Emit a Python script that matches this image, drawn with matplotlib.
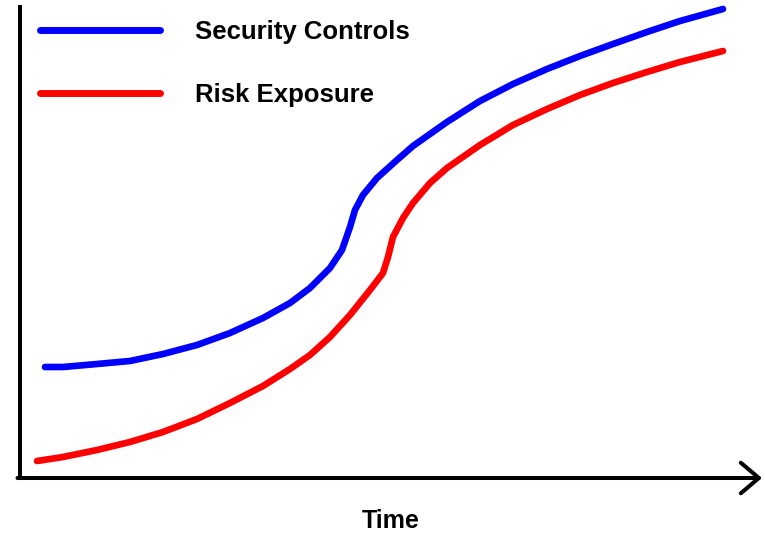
import matplotlib.pyplot as plt

plt.rcParams["font.family"] = ["Liberation Sans", "DejaVu Sans"]

# Values (time units, level units)
security_time = [25, 43, 77, 110, 143, 177, 210, 243, 270, 290, 310, 322, 330, 335,
                 343, 357, 377, 393, 427, 460, 493, 527, 560, 593, 627, 660, 703]
security_level = [111, 111, 114, 117, 124, 133, 145, 160, 175, 190, 210, 228, 251, 268,
                  283, 300, 318, 332, 356, 377, 394, 409, 422, 434, 446, 457, 469]

risk_time = [17, 43, 77, 110, 143, 177, 210, 243, 270, 290, 310, 330, 350, 363,
             368, 373, 383, 393, 410, 427, 460, 493, 527, 560, 593, 627, 660, 703]
risk_level = [17, 21, 28, 36, 46, 59, 75, 92, 109, 123, 141, 163, 188, 205,
              221, 241, 260, 275, 295, 310, 333, 353, 369, 383, 395, 406, 416, 427]

labels = ["Security Controls", "Risk Exposure"]
colors = ["#0000ff", "#ff0000"]

fig = plt.figure(figsize=(7.65, 5.33), dpi=100)
ax = fig.add_axes([20 / 765, 55 / 533, 740 / 765, 478 / 533])
ax.set_xlim(0, 740)
ax.set_ylim(0, 478)

ax.plot(security_time, security_level, color=colors[0], lw=4.8,
        solid_capstyle="round", solid_joinstyle="round", label=labels[0])
ax.plot(risk_time, risk_level, color=colors[1], lw=4.8,
        solid_capstyle="round", solid_joinstyle="round", label=labels[1])

# axes: plain vertical line, x axis with open arrowhead
for s in ["top", "right", "bottom"]:
    ax.spines[s].set_visible(False)
ax.spines["left"].set_linewidth(2.9)
ax.spines["left"].set_bounds(0, 471)
ax.annotate("", xy=(742, 0), xytext=(-2.5, 0), xycoords="data",
            annotation_clip=False,
            arrowprops=dict(arrowstyle="->,head_length=0.65,head_width=0.55",
                            lw=2.9, color="black", mutation_scale=20,
                            shrinkA=0, shrinkB=0))
ax.set_xticks([])
ax.set_yticks([])

fig.text(391 / 765, 1 - 521 / 533, "Time", ha="center", va="center",
         fontsize=18, fontweight="bold")

leg = ax.legend(loc="upper left", bbox_to_anchor=(40 / 765, 1 - 20 / 533),
                bbox_transform=fig.transFigure, frameon=False, borderpad=0,
                borderaxespad=0, handlelength=4.66, handletextpad=1.36,
                labelspacing=1.51, prop={"weight": "bold", "size": 18.5})
for line in leg.get_lines():
    line.set_linewidth(5)
    line.set_solid_capstyle("round")

fig.savefig("out.png", dpi=100)
